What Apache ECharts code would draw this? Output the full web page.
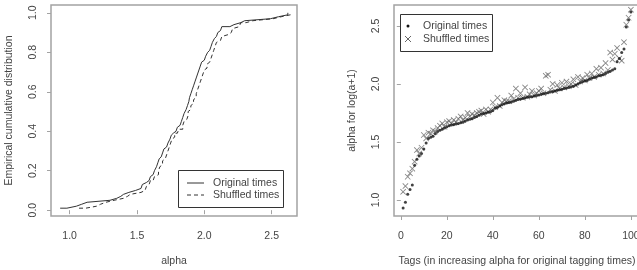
<!DOCTYPE html>
<html>
<head>
<meta charset="utf-8">
<script src="https://cdn.jsdelivr.net/npm/echarts@6/dist/echarts.min.js"></script>
<style>
  html, body { margin: 0; padding: 0; background: #fff; }
  #chart { width: 637px; height: 270px; }
</style>
</head>
<body>
<div id="chart"></div>
<script>
// alpha per tag, tags sorted by alpha for the original tagging times
const originalAlpha = [
  0.93, 0.98, 1.05, 1.09, 1.13, 1.30, 1.35, 1.38, 1.40, 1.44,
  1.49, 1.53, 1.54, 1.55, 1.57, 1.59, 1.60, 1.61, 1.62, 1.63,
  1.64, 1.645, 1.65, 1.655, 1.66, 1.665, 1.67, 1.68, 1.69, 1.695,
  1.70, 1.71, 1.72, 1.73, 1.74, 1.745, 1.75, 1.755, 1.76, 1.77,
  1.79, 1.80, 1.81, 1.82, 1.83, 1.835, 1.84, 1.845, 1.85, 1.86,
  1.865, 1.87, 1.875, 1.88, 1.885, 1.89, 1.89, 1.895, 1.90, 1.905,
  1.91, 1.915, 1.92, 1.925, 1.93, 1.935, 1.94, 1.945, 1.95, 1.955,
  1.96, 1.965, 1.97, 1.975, 1.98, 1.99, 2.00, 2.01, 2.02, 2.025,
  2.03, 2.04, 2.05, 2.055, 2.06, 2.07, 2.075, 2.08, 2.09, 2.10,
  2.11, 2.12, 2.13, 2.19, 2.22, 2.27, 2.30, 2.49, 2.55, 2.62
]
// alpha of the same tags with shuffled times
const shuffledAlpha = [
  1.07, 1.12, 1.20, 1.23, 1.27, 1.33, 1.43, 1.40, 1.45, 1.56,
  1.53, 1.58, 1.57, 1.60, 1.59, 1.62, 1.64, 1.66, 1.63, 1.67,
  1.68, 1.66, 1.69, 1.67, 1.70, 1.72, 1.69, 1.71, 1.75, 1.72,
  1.74, 1.73, 1.75, 1.76, 1.77, 1.74, 1.78, 1.76, 1.78, 1.84,
  1.80, 1.88, 1.81, 1.84, 1.86, 1.85, 1.85, 1.90, 1.87, 1.96,
  1.88, 1.92, 1.88, 1.97, 1.89, 1.91, 1.94, 1.90, 1.92, 1.94,
  1.96, 1.92, 2.07, 2.08, 1.95, 2.00, 1.94, 1.99, 1.96, 2.01,
  1.97, 2.02, 1.98, 2.00, 2.04, 1.99, 2.06, 2.02, 2.05, 2.03,
  2.08, 2.05, 2.09, 2.06, 2.13, 2.08, 2.14, 2.09, 2.18, 2.12,
  2.27, 2.21, 2.26, 2.31, 2.22, 2.20, 2.36, 2.51, 2.57, 2.64
]

const ecdfXTicks = [1.0, 1.5, 2.0, 2.5]
const ecdfYTicks = [0.0, 0.2, 0.4, 0.6, 0.8, 1.0]
const tagTicks = [0, 20, 40, 60, 80, 100]
const alphaTicks = [1.0, 1.5, 2.0, 2.5]
const legendNames = ['Original times', 'Shuffled times']

const textColor = '#444'
const boxColor = '#a3a3a3'
const font = 'Liberation Sans, Arial, sans-serif'
const fs = 10.5

// empirical cumulative distribution points
function ecdf(values) {
  const sorted = values.slice().sort((a, b) => a - b)
  return sorted.map((v, i) => [v, (i + 1) / sorted.length])
}

function fmt1(v) {
  return Number(v).toFixed(1)
}

function makeAxis(gridIndex, min, max, ticks, formatter, name, gap, rotate) {
  return {
    type: 'value',
    gridIndex: gridIndex,
    min: min,
    max: max,
    name: name,
    nameLocation: 'middle',
    nameGap: gap,
    nameTextStyle: { color: textColor, fontSize: fs, fontFamily: font },
    splitLine: { show: false },
    axisLine: { show: false },
    axisTick: { show: true, length: 4, customValues: ticks, lineStyle: { color: boxColor, width: 1 } },
    axisLabel: {
      customValues: ticks,
      formatter: formatter,
      color: textColor,
      fontSize: fs,
      fontFamily: font,
      rotate: rotate,
      margin: rotate ? 12 : 15
    }
  }
}

const chart = echarts.init(document.getElementById('chart'), null, { renderer: 'canvas' })

const xCross = 'path://M0,1L1,0L5,4L9,0L10,1L6,5L10,9L9,10L5,6L1,10L0,9L4,5Z'
const legendText = { fill: textColor, fontSize: fs, fontFamily: font, verticalAlign: 'middle' }

const option = {
  animation: false,
  backgroundColor: '#fff',
  textStyle: { fontFamily: font },
  grid: [
    { left: 51, top: 5, width: 246, height: 211, outerBoundsMode: 'none', show: true, borderColor: boxColor, borderWidth: 1.5, backgroundColor: 'transparent' },
    { left: 394, top: 5, width: 246, height: 211, outerBoundsMode: 'none', show: true, borderColor: boxColor, borderWidth: 1.5, backgroundColor: 'transparent' }
  ],
  xAxis: [
    makeAxis(0, 0.862, 2.688, ecdfXTicks, fmt1, 'alpha', 40, 0),
    makeAxis(1, -2.96, 103.96, tagTicks, v => String(v), 'Tags (in increasing alpha for original tagging times)', 40, 0)
  ],
  yAxis: [
    makeAxis(0, -0.0296, 1.0396, ecdfYTicks, fmt1, 'Empirical cumulative distribution', 36, 90),
    makeAxis(1, 0.862, 2.68, alphaTicks, fmt1, 'alpha for log(a+1)', 36, 90)
  ],
  graphic: [
    // left legend
    { type: 'rect', shape: { x: 178.5, y: 170.5, width: 105, height: 37 }, style: { fill: '#fff', stroke: '#333', lineWidth: 1 }, z: 100 },
    { type: 'line', shape: { x1: 187, y1: 183, x2: 204, y2: 183 }, style: { stroke: '#333', lineWidth: 1 }, z: 101 },
    { type: 'line', shape: { x1: 187, y1: 195, x2: 204, y2: 195 }, style: { stroke: '#333', lineWidth: 1, lineDash: [4, 3] }, z: 101 },
    { type: 'text', x: 213, y: 183, style: Object.assign({ text: legendNames[0] }, legendText), z: 101 },
    { type: 'text', x: 213, y: 195, style: Object.assign({ text: legendNames[1] }, legendText), z: 101 },
    // right legend
    { type: 'rect', shape: { x: 400.5, y: 14.5, width: 92, height: 37 }, style: { fill: '#fff', stroke: '#333', lineWidth: 1 }, z: 100 },
    { type: 'circle', shape: { cx: 408, cy: 26, r: 1.5 }, style: { fill: '#111' }, z: 101 },
    { type: 'line', shape: { x1: 405, y1: 36, x2: 411, y2: 42 }, style: { stroke: '#666', lineWidth: 1 }, z: 101 },
    { type: 'line', shape: { x1: 411, y1: 36, x2: 405, y2: 42 }, style: { stroke: '#666', lineWidth: 1 }, z: 101 },
    { type: 'text', x: 423, y: 26, style: Object.assign({ text: legendNames[0] }, legendText), z: 101 },
    { type: 'text', x: 423, y: 39, style: Object.assign({ text: legendNames[1] }, legendText), z: 101 }
  ],
  series: [
    {
      name: legendNames[0], type: 'line', xAxisIndex: 0, yAxisIndex: 0,
      data: ecdf(originalAlpha), step: 'end', showSymbol: false,
      lineStyle: { color: '#333', width: 1 }
    },
    {
      name: legendNames[1], type: 'line', xAxisIndex: 0, yAxisIndex: 0,
      data: ecdf(shuffledAlpha), step: 'end', showSymbol: false,
      lineStyle: { color: '#333', width: 1, type: [4, 3] }
    },
    {
      name: legendNames[1], type: 'scatter', xAxisIndex: 1, yAxisIndex: 1,
      data: shuffledAlpha.map((v, i) => [i + 1, v]),
      symbol: xCross, symbolSize: 6,
      itemStyle: { color: '#666' }
    },
    {
      name: legendNames[0], type: 'scatter', xAxisIndex: 1, yAxisIndex: 1,
      data: originalAlpha.map((v, i) => [i + 1, v]),
      symbol: 'circle', symbolSize: 3,
      itemStyle: { color: '#111' }
    }
  ]
}

chart.setOption(option)
</script>
</body>
</html>
